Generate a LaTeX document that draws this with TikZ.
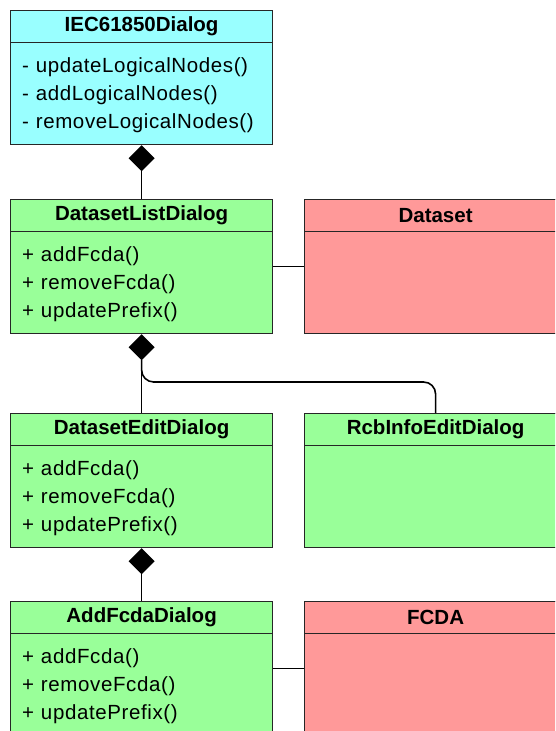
\documentclass[tikz,border=0pt]{standalone}
\usepackage{fontspec}
\setmainfont{Liberation Sans}
\newfontfamily\opsfont[LetterSpace=3]{Liberation Sans}
\usetikzlibrary{arrows.meta,positioning}

\definecolor{dlgcyan}{RGB}{153,255,255}
\definecolor{dlggreen}{RGB}{153,255,153}
\definecolor{datared}{RGB}{255,153,153}

\tikzset{
  umlclass/.style={draw=black!85, line width=1.2pt, minimum width=262pt, minimum height=134pt, inner sep=0pt, anchor=north west},
  umltitle/.style={draw=black!85, line width=1.2pt, minimum width=262pt, minimum height=32pt, inner sep=0pt, anchor=north, font=\bfseries\fontsize{20.5}{24}\selectfont},
  umlops/.style={anchor=north west, align=left, text width=240pt, inner sep=0pt, font=\opsfont\fontsize{20.5}{28.2}\selectfont},
  compose/.style={{Diamond[length=26pt,width=26pt]}-, line width=1.6pt},
  assoc/.style={line width=1.6pt},
}

\begin{document}
\begin{tikzpicture}[x=1pt, y=-1pt]
\useasboundingbox (0,0) rectangle (555,731);
\clip (0,0) rectangle (555,731);

% dialogs
\node[umlclass, fill=dlgcyan] (iec) at (10,10) {};
\node[umltitle] (iec-t) at (iec.north) {IEC61850Dialog};
\node[umlops] (iec-m) at ([xshift=12pt,yshift=-14pt]iec-t.south west) {- updateLogicalNodes()\\- addLogicalNodes()\\- removeLogicalNodes()};

\node[umlclass, fill=dlggreen] (dlist) at (10,199) {};
\node[umltitle] (dlist-t) at (dlist.north) {DatasetListDialog};
\node[umlops] (dlist-m) at ([xshift=12pt,yshift=-14pt]dlist-t.south west) {+ addFcda()\\+ removeFcda()\\+ updatePrefix()};

\node[umlclass, fill=dlggreen] (dedit) at (10,413) {};
\node[umltitle] (dedit-t) at (dedit.north) {DatasetEditDialog};
\node[umlops] (dedit-m) at ([xshift=12pt,yshift=-14pt]dedit-t.south west) {+ addFcda()\\+ removeFcda()\\+ updatePrefix()};

\node[umlclass, fill=dlggreen] (addf) at (10,601) {};
\node[umltitle] (addf-t) at (addf.north) {AddFcdaDialog};
\node[umlops] (addf-m) at ([xshift=12pt,yshift=-14pt]addf-t.south west) {+ addFcda()\\+ removeFcda()\\+ updatePrefix()};

% data and other dialogs on the right
\node[umlclass, fill=datared] (dataset) at (304,199) {};
\node[umltitle] (dataset-t) at (dataset.north) {Dataset};

\node[umlclass, fill=dlggreen] (rcb) at (304,413) {};
\node[umltitle] (rcb-t) at (rcb.north) {RcbInfoEditDialog};

\node[umlclass, fill=datared] (fcda) at (304,601) {};
\node[umltitle] (fcda-t) at (fcda.north) {FCDA};

% connectors
\draw[compose] (iec.south) -- (dlist.north);
\draw[assoc] (dlist.east) -- (dataset.west);
\draw[compose] (dlist.south) -- (dedit.north);
\coordinate (split) at ([yshift=-26pt]dlist.south);
\draw[assoc, rounded corners=12pt] (split) |- ([yshift=31pt]rcb.north) -- (rcb.north);
\draw[compose] (dedit.south) -- (addf.north);
\draw[assoc] (addf.east) -- (fcda.west);
\end{tikzpicture}
\end{document}
